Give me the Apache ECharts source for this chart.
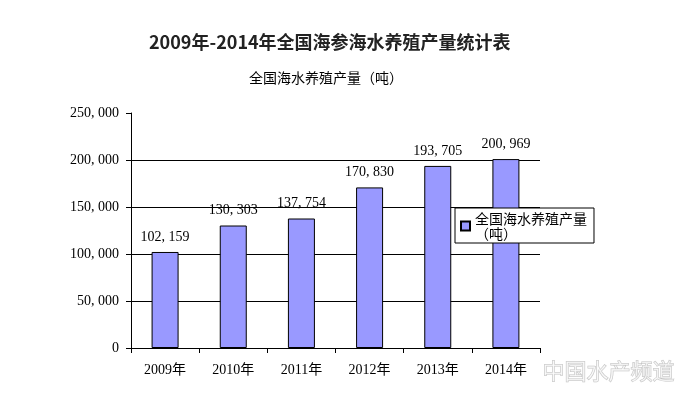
<!DOCTYPE html>
<html>
<head>
  <meta charset="utf-8" />
  <title>2009年-2014年全国海参海水养殖产量统计表</title>
  <script src="https://cdn.jsdelivr.net/npm/echarts@6/dist/echarts.min.js"></script>
</head>
<body style="margin:0;background:#fff;">
  <div id="chart" style="width:689px;height:396px;"></div>
  <script type="text/javascript">
    // data
    let years = ['2009年', '2010年', '2011年', '2012年', '2013年', '2014年'];
    let output = [102159, 130303, 137754, 170830, 193705, 200969];

    var serif = "'Liberation Serif', 'Noto Sans CJK SC', serif";
    var cjk = "'Noto Sans CJK SC', sans-serif";

    function fmt(v) {
      var s = String(v);
      var out = '';
      while (s.length > 3) {
        out = ', ' + s.slice(-3) + out;
        s = s.slice(0, -3);
      }
      return s + out;
    }

    var chart = echarts.init(document.getElementById('chart'));

    var option = {
      animation: false,
      backgroundColor: '#fff',
      title: [
        {
          text: '2009年-2014年全国海参海水养殖产量统计表',
          left: 144,
          top: 28,
          textStyle: { fontFamily: cjk, fontSize: 18, fontWeight: 'bold', color: '#222' }
        },
        {
          text: '全国海水养殖产量（吨）',
          left: 244,
          top: 66,
          textStyle: { fontFamily: cjk, fontSize: 14, fontWeight: 'normal', color: '#000' }
        }
      ],
      legend: {
        left: 455,
        top: 208,
        orient: 'vertical',
        backgroundColor: '#fff',
        borderColor: '#000',
        borderWidth: 1,
        borderRadius: 0,
        padding: [3, 7, 2, 5],
        itemWidth: 9,
        itemHeight: 9,
        itemGap: 4,
        textStyle: { fontFamily: cjk, fontSize: 14, color: '#000', lineHeight: 15 },
        data: [{ name: '全国海水养殖产量\n（吨）', icon: 'rect' }]
      },
      grid: { left: 131, right: 149, top: 113, bottom: 48 },
      xAxis: {
        type: 'category',
        data: years,
        axisLine: { lineStyle: { color: '#000', width: 1 } },
        axisTick: { show: true, length: 5, inside: false, lineStyle: { color: '#000' } },
        axisLabel: { fontFamily: serif, fontSize: 14, color: '#000', margin: 15 }
      },
      yAxis: {
        type: 'value',
        min: 0,
        max: 250000,
        interval: 50000,
        axisLine: { show: true, lineStyle: { color: '#000', width: 1 } },
        axisTick: { show: true, length: 5, lineStyle: { color: '#000' } },
        axisLabel: {
          fontFamily: serif, fontSize: 14, color: '#000', margin: 12,
          formatter: function (v) { return fmt(v); }
        },
        splitLine: {
          show: true,
          lineStyle: { color: ['#000', '#000', '#000', '#000', '#000', 'rgba(0,0,0,0)'], width: 1 }
        }
      },
      series: [
        {
          name: '全国海水养殖产量\n（吨）',
          type: 'bar',
          data: output,
          barWidth: 27,
          itemStyle: { color: '#9999FF', borderColor: '#000', borderWidth: 1 },
          label: {
            show: true,
            position: 'top',
            distance: 8,
            fontFamily: serif,
            fontSize: 14,
            color: '#000',
            formatter: function (p) { return fmt(p.value); }
          }
        }
      ],
      graphic: [
        {
          type: 'text',
          right: 14,
          bottom: 14,
          z: 100,
          style: {
            text: '中国水产频道',
            fontFamily: cjk,
            fontSize: 22,
            fill: 'rgba(255,255,255,0.6)',
            stroke: 'rgba(170,170,170,0.7)',
            lineWidth: 1
          }
        }
      ]
    };

    chart.setOption(option);
  </script>
</body>
</html>
